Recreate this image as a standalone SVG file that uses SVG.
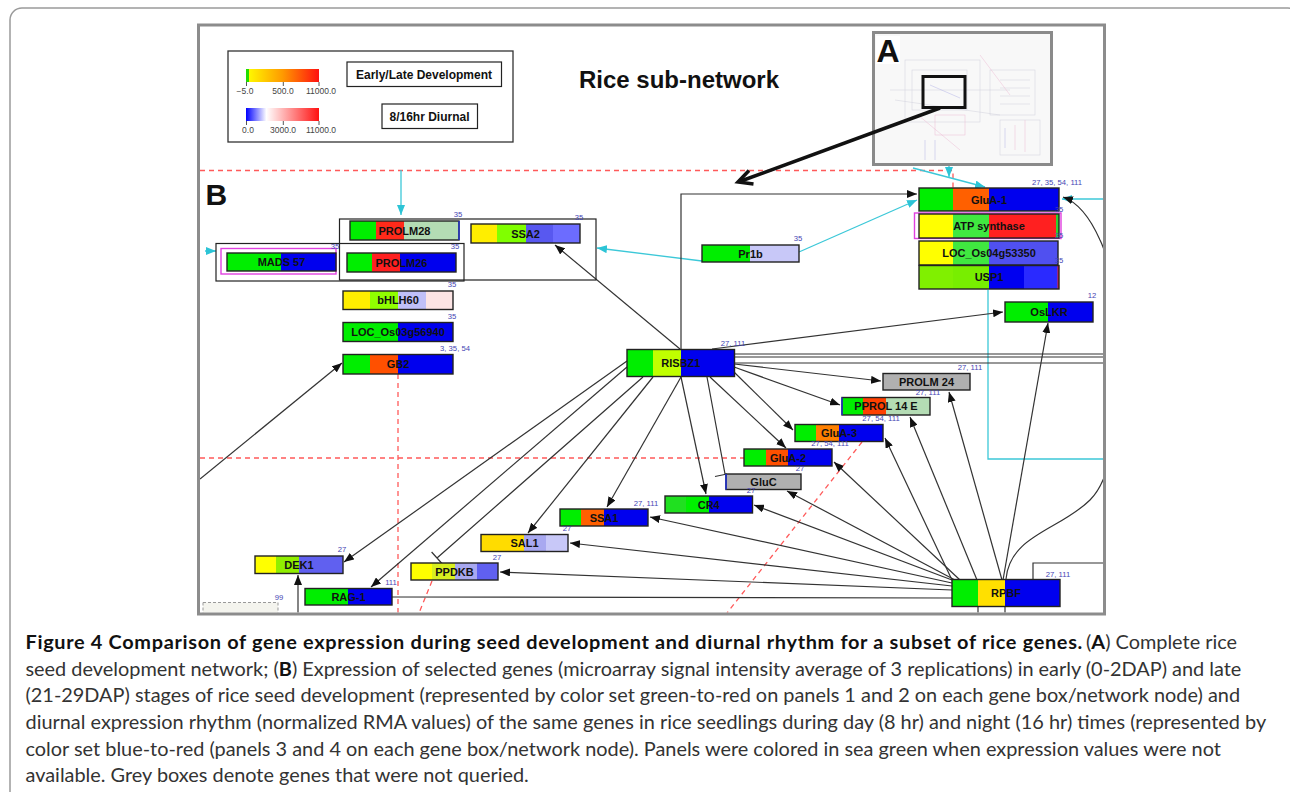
<svg xmlns="http://www.w3.org/2000/svg" width="1290" height="792" viewBox="0 0 1290 792">
<style>
.nb{fill:none;stroke:#222;stroke-width:1.4}
.nl{font-family:"Liberation Sans",Arial,sans-serif;font-weight:bold;font-size:11px;text-anchor:middle;fill:#111}
.num{font-family:"Liberation Sans",Arial,sans-serif;font-size:7.7px;fill:#4646b4;text-anchor:middle}
.e{fill:none;stroke:#333;stroke-width:1.2}
.ea{marker-end:url(#ab)}
.cy{fill:none;stroke:#3cc8d8;stroke-width:1.3}
.ca{marker-end:url(#ac)}
.rd{fill:none;stroke:#ff5a5a;stroke-width:1.3;stroke-dasharray:5 4}
.gb{fill:none;stroke:#222;stroke-width:1.2}
.lg{font-family:"Liberation Sans",Arial,sans-serif;font-weight:bold;font-size:12px;text-anchor:middle;fill:#111}
.tk{font-family:"Liberation Sans",Arial,sans-serif;font-size:8.5px;fill:#444;text-anchor:middle}
.cap{font-family:Lato,"Open Sans",sans-serif;font-size:19.9px;fill:#333}
.capb{font-weight:bold;fill:#111}
.fa{fill:none;stroke-width:0.5}
.gr{fill:#b0b0b0}
</style>
<defs>
<marker id="ab" viewBox="0 0 10 8" refX="10" refY="4" markerWidth="10" markerHeight="8" orient="auto" markerUnits="userSpaceOnUse"><path d="M0,0L10,4L0,8z" fill="#111"/></marker>
<marker id="ac" viewBox="0 0 10 8" refX="10" refY="4" markerWidth="10" markerHeight="8" orient="auto" markerUnits="userSpaceOnUse"><path d="M0,0L10,4L0,8z" fill="#2cc4d6"/></marker>
<linearGradient id="g1" x1="0" x2="1" y1="0" y2="0"><stop offset="0" stop-color="#ffff00"/><stop offset="0.5" stop-color="#ff9a00"/><stop offset="1" stop-color="#ff1010"/></linearGradient>
<linearGradient id="g2" x1="0" x2="1" y1="0" y2="0"><stop offset="0" stop-color="#0000ff"/><stop offset="0.28" stop-color="#ffffff"/><stop offset="1" stop-color="#ff1010"/></linearGradient>
<clipPath id="fr"><rect x="200" y="26.5" width="903" height="586"/></clipPath>
</defs>
<rect width="1290" height="792" fill="#ffffff"/>
<rect x="10" y="8" width="1290" height="800" rx="12" fill="#ffffff" stroke="#9a9a9a" stroke-width="1.5"/>
<rect x="198.5" y="25" width="906" height="589" fill="#ffffff"/>
<g clip-path="url(#fr)">
<g id="legend">
<rect x="228" y="51" width="285" height="91" fill="#ffffff" stroke="#333" stroke-width="1.3"/>
<rect x="246" y="69" width="73" height="13" fill="url(#g1)"/>
<rect x="246" y="69" width="3" height="13" fill="#22dd00"/>
<g stroke="#555" stroke-width="1"><line x1="246.5" y1="82" x2="246.5" y2="86"/><line x1="283.3" y1="82" x2="283.3" y2="86"/><line x1="319" y1="82" x2="319" y2="86"/></g>
<text class="tk" x="245" y="94">−5.0</text><text class="tk" x="283" y="94">500.0</text><text class="tk" x="321" y="94">11000.0</text>
<rect x="246" y="108" width="73" height="13" fill="url(#g2)"/>
<g stroke="#555" stroke-width="1"><line x1="246.5" y1="121" x2="246.5" y2="125"/><line x1="283.3" y1="121" x2="283.3" y2="125"/><line x1="319" y1="121" x2="319" y2="125"/></g>
<text class="tk" x="248" y="133">0.0</text><text class="tk" x="283" y="133">3000.0</text><text class="tk" x="321" y="133">11000.0</text>
<rect x="347" y="62" width="154.5" height="24.5" fill="#fff" stroke="#222" stroke-width="1.2"/>
<text class="lg" x="424" y="78.5">Early/Late Development</text>
<rect x="382" y="104" width="95.5" height="24.5" fill="#fff" stroke="#222" stroke-width="1.2"/>
<text class="lg" x="429.5" y="120.5">8/16hr Diurnal</text>
</g>
<text x="579" y="88" font-family="Liberation Sans,Arial,sans-serif" font-weight="bold" font-size="24" fill="#111">Rice sub-network</text>
<text x="205.5" y="205" font-family="Liberation Sans,Arial,sans-serif" font-weight="bold" font-size="30" fill="#111">B</text>
<g id="inset-a">
<rect x="873.5" y="32.5" width="178" height="132" fill="#f8f8f8" stroke="#8a8a8a" stroke-width="3"/>
<g class="fa" stroke="#d0d0dc">
<rect x="905" y="60" width="75" height="62"/><rect x="912" y="70" width="55" height="40"/>
<line x1="890" y1="90" x2="1010" y2="90"/><line x1="895" y1="100" x2="1000" y2="115"/>
<rect x="1000" y="120" width="40" height="35"/><rect x="990" y="70" width="45" height="45"/>
<line x1="1000" y1="80" x2="1030" y2="80"/><line x1="1000" y1="88" x2="1030" y2="88"/><line x1="1000" y1="96" x2="1030" y2="96"/><line x1="1000" y1="104" x2="1030" y2="104"/>
</g>
<g class="fa" stroke="#ecbcd4">
<line x1="918" y1="115" x2="960" y2="150"/><line x1="980" y1="55" x2="1010" y2="95"/><rect x="935" y="115" width="30" height="20"/>
<line x1="1015" y1="125" x2="1015" y2="150"/><line x1="1025" y1="120" x2="1025" y2="152"/>
</g>
<g class="fa" stroke="#b4b4e6">
<line x1="930" y1="85" x2="960" y2="98"/><line x1="925" y1="140" x2="925" y2="160"/><line x1="935" y1="140" x2="935" y2="160"/>
<line x1="1005" y1="128" x2="1005" y2="148"/>
</g>
<rect x="923" y="76.5" width="42" height="31" fill="none" stroke="#111" stroke-width="3"/>
<rect x="876" y="36" width="24" height="28" fill="#ffffff"/>
<text x="876.5" y="62" font-family="Liberation Sans,Arial,sans-serif" font-weight="bold" font-size="32" fill="#111">A</text>
</g>
<g id="connectors">
<path class="rd" d="M200,170.5H953V188"/>
<path class="rd" d="M398,374V613"/>
<path class="rd" d="M200,458H744"/>
<path class="rd" d="M862,442L727,613"/>
<path class="rd" d="M432,581L419,613"/>
<path d="M940,108L741,181" fill="none" stroke="#111" stroke-width="3.5"/>
<polyline points="749,170.5 738,182 753.5,184" fill="none" stroke="#111" stroke-width="3.5"/>
<path class="cy ca" d="M401,170V215"/>
<path class="cy ca" d="M205,251H216"/>
<path class="cy ca" d="M702,261L597,248"/>
<path class="cy ca" d="M799,252L917,200"/>
<path class="cy ca" d="M949,166V177"/>
<path class="cy ca" d="M913,168L985,187"/>
<path class="cy ca" d="M1103,199H1062"/>
<path class="cy" d="M988,290V459H1103"/>
<path class="e ea" d="M680,349L555,245"/>
<path class="e ea" d="M681,349V194H917"/>
<path class="e ea" d="M712,349L1003,312"/>
<path class="e" d="M734,354H1103M734,357H1103M734,363H1103"/>
<path class="e ea" d="M734,364L881,381"/>
<path class="e ea" d="M734,367L840,405"/>
<path class="e ea" d="M734,372L793,430"/>
<path class="e ea" d="M710,377L786,448"/>
<path class="e" d="M707,377L725,474M715,476.5L727,474"/>
<path class="e ea" d="M681,377L706,494"/>
<path class="e ea" d="M681,377L607,507"/>
<path class="e ea" d="M653,377L528,533"/>
<path class="e" d="M643,377L437,558M431.6,552L442.4,564"/>
<path class="e ea" d="M627,367L371,587"/>
<path class="e ea" d="M627,361L344,562"/>
<path class="e ea" d="M200,479L342,363"/>
<path class="e ea" d="M298,613V575"/>
<path class="e" d="M392,597L952,598"/>
<path class="e ea" d="M952,590L500,572"/>
<path class="e ea" d="M952,586L570,543"/>
<path class="e ea" d="M952,583L650,517"/>
<path class="e ea" d="M952,580L754,505"/>
<path class="e ea" d="M955,580L787,491"/>
<path class="e ea" d="M960,580L834,462"/>
<path class="e ea" d="M952,580L885,438"/>
<path class="e ea" d="M977,580L910,417"/>
<path class="e ea" d="M1002,580L949,392"/>
<path class="e ea" d="M1003,580L1048,323"/>
<path class="e ea" d="M1006,579C1010,535 1060,530 1090,500C1110,480 1116,440 1116,380C1116,300 1110,260 1100,240C1092,222 1080,203 1063,197"/>
<path class="e" d="M978,607V613M1005,607V613M1033,579V563H1103"/>
</g>
<rect x="339.5" y="219" width="256.5" height="61" class="gb"/>
<rect x="216" y="243.5" width="248" height="37.5" class="gb"/>
<g id="n-glua1"><rect x="919" y="188" width="34" height="23" fill="#00ee00"/><rect x="953" y="188" width="36" height="23" fill="#ff6000"/><rect x="989" y="188" width="70" height="23" fill="#0000ee"/><rect x="919" y="188" width="140" height="23" class="nb"/><text class="nl" x="989" y="203.5">GluA-1</text><text class="num" x="1057" y="185">27, 35, 54, 111</text></g>
<g id="n-atp"><rect x="914.5" y="213" width="146.5" height="25.5" fill="none" stroke="#e040e0" stroke-width="1.4"/><rect x="919" y="214" width="34" height="24" fill="#ffff00"/><rect x="953" y="214" width="36" height="24" fill="#40e840"/><rect x="989" y="214" width="67" height="24" fill="#ff2020"/><rect x="1056" y="214" width="3" height="24" fill="#30d030"/><rect x="919" y="214" width="140" height="24" class="nb"/><text class="nl" x="989" y="230">ATP synthase</text></g>
<g id="n-loc04"><rect x="919" y="241" width="34" height="24" fill="#ffff00"/><rect x="953" y="241" width="36" height="24" fill="#40e840"/><rect x="989" y="241" width="69" height="24" fill="#5050f0"/><rect x="919" y="241" width="139" height="24" class="nb"/><text class="nl" x="989" y="257">LOC_Os04g53350</text></g>
<g id="n-usp1"><rect x="919" y="265.5" width="34" height="23.5" fill="#80f000"/><rect x="953" y="265.5" width="36" height="23.5" fill="#78ee00"/><rect x="989" y="265.5" width="35" height="23.5" fill="#0000f0"/><rect x="1024" y="265.5" width="34" height="23.5" fill="#2a2aff"/><rect x="1057.5" y="265.5" width="1.5" height="23.5" fill="#ff2020"/><rect x="919" y="265.5" width="140" height="23.5" class="nb"/><text class="nl" x="989" y="281">USP1</text></g>
<text class="num" x="1059" y="212">35</text><text class="num" x="1059" y="238">35</text><text class="num" x="1059" y="263">35</text>
<g id="n-pr1b"><rect x="702" y="245" width="48" height="17" fill="#00ee00"/><rect x="750" y="245" width="49" height="17" fill="#c8c8f8"/><rect x="702" y="245" width="97" height="17" class="nb"/><text class="nl" x="750.5" y="257.5">Pr1b</text><text class="num" x="798" y="241">35</text></g>
<g id="n-oslkr"><rect x="1005" y="302" width="43" height="20" fill="#00ee00"/><rect x="1048" y="302" width="45" height="20" fill="#0000ee"/><rect x="1005" y="302" width="88" height="20" class="nb"/><text class="nl" x="1049" y="316">OsLKR</text><text class="num" x="1092" y="298">12</text></g>
<g id="n-prolm28"><rect x="350" y="221" width="26" height="19" fill="#00ee00"/><rect x="376" y="221" width="28" height="19" fill="#ff2a1a"/><rect x="404" y="221" width="55" height="19" fill="#b4dcb4"/><rect x="350" y="221" width="109" height="19" class="nb"/><line x1="459" y1="221" x2="459" y2="240" stroke="#2030d0" stroke-width="1.4"/><text class="nl" x="404.5" y="234.5">PROLM28</text><text class="num" x="458" y="217">35</text></g>
<g id="n-ssa2"><rect x="471" y="224" width="26" height="19" fill="#ffee00"/><rect x="497" y="224" width="29" height="19" fill="#80ff00"/><rect x="526" y="224" width="27" height="19" fill="#5858f0"/><rect x="553" y="224" width="27" height="19" fill="#6c6cff"/><rect x="471" y="224" width="109" height="19" class="nb"/><text class="nl" x="525.5" y="237.5">SSA2</text><text class="num" x="579" y="220">35</text></g>
<g id="n-mads57"><rect x="221" y="248.5" width="115" height="25.5" fill="none" stroke="#e040e0" stroke-width="1.4"/><rect x="227" y="253" width="54" height="18" fill="#00ee00"/><rect x="281" y="253" width="55" height="18" fill="#0000ee"/><rect x="227" y="253" width="109" height="18" class="nb"/><text class="nl" x="281.5" y="266">MADS 57</text><text class="num" x="335" y="249">35</text></g>
<g id="n-prolm26"><rect x="347" y="253" width="25" height="19" fill="#00ee00"/><rect x="372" y="253" width="28" height="19" fill="#ff2020"/><rect x="400" y="253" width="56" height="19" fill="#0000ee"/><rect x="347" y="253" width="109" height="19" class="nb"/><text class="nl" x="401.5" y="266.5">PROLM26</text><text class="num" x="455" y="249">35</text></g>
<g id="n-bhlh60"><rect x="343" y="291" width="27" height="18.5" fill="#ffee00"/><rect x="370" y="291" width="28" height="18.5" fill="#90ff00"/><rect x="398" y="291" width="28" height="18.5" fill="#c0c0f8"/><rect x="426" y="291" width="27" height="18.5" fill="#fce4e4"/><rect x="343" y="291" width="110" height="18.5" class="nb"/><text class="nl" x="398" y="304">bHLH60</text><text class="num" x="452" y="287">35</text></g>
<g id="n-loc03"><rect x="343" y="322.5" width="55" height="19" fill="#00ee00"/><rect x="398" y="322.5" width="55" height="19" fill="#0000ee"/><rect x="343" y="322.5" width="110" height="19" class="nb"/><text class="nl" x="398" y="336">LOC_Os03g56940</text><text class="num" x="452" y="319">35</text></g>
<g id="n-gb2"><rect x="343" y="354.5" width="27" height="19.5" fill="#00ee00"/><rect x="370" y="354.5" width="28" height="19.5" fill="#ff5000"/><rect x="398" y="354.5" width="55" height="19.5" fill="#0000ee"/><rect x="343" y="354.5" width="110" height="19.5" class="nb"/><text class="nl" x="398" y="368">GB2</text><text class="num" x="455" y="351">3, 35, 54</text></g>
<g id="n-risbz1"><rect x="627" y="349.5" width="26" height="27" fill="#00ee00"/><rect x="653" y="349.5" width="28" height="27" fill="#c0ff00"/><rect x="681" y="349.5" width="53.5" height="27" fill="#0000ee"/><rect x="627" y="349.5" width="107.5" height="27" class="nb"/><text class="nl" x="680.75" y="367">RISBZ1</text><text class="num" x="733" y="346">27, 111</text></g>
<g id="n-prolm24"><rect x="883" y="373.5" width="87" height="16.5" class="gr"/><rect x="883" y="373.5" width="87" height="16.5" class="nb"/><text class="nl" x="926.5" y="385.75">PROLM 24</text><text class="num" x="970" y="370">27, 111</text></g>
<g id="n-pprol14e"><rect x="842" y="397.5" width="21" height="17.5" fill="#00ee00"/><rect x="863" y="397.5" width="23" height="17.5" fill="#ff4000"/><rect x="886" y="397.5" width="44" height="17.5" fill="#b4dcb4"/><rect x="842" y="397.5" width="88" height="17.5" class="nb"/><line x1="842" y1="397.5" x2="842" y2="415" stroke="#2030d0" stroke-width="1.4"/><text class="nl" x="886" y="410.25">PPROL 14 E</text><text class="num" x="928" y="395">27, 111</text></g>
<g id="n-glua3"><rect x="795" y="424.5" width="21" height="17" fill="#00ee00"/><rect x="816" y="424.5" width="23" height="17" fill="#ff8000"/><rect x="839" y="424.5" width="44" height="17" fill="#0000ee"/><rect x="795" y="424.5" width="88" height="17" class="nb"/><text class="nl" x="839" y="437">GluA-3</text><text class="num" x="881" y="421">27, 54, 111</text></g>
<g id="n-glua2"><rect x="744" y="449" width="22" height="17" fill="#00ee00"/><rect x="766" y="449" width="22" height="17" fill="#ff5000"/><rect x="788" y="449" width="44" height="17" fill="#0000ee"/><rect x="744" y="449" width="88" height="17" class="nb"/><text class="nl" x="788" y="461.5">GluA-2</text><text class="num" x="830" y="446">27, 54, 111</text></g>
<g id="n-gluc"><rect x="726" y="474" width="75" height="15.5" class="gr"/><rect x="726" y="474" width="75" height="15.5" class="nb"/><line x1="726" y1="474" x2="726" y2="489.5" stroke="#2030d0" stroke-width="1.6"/><text class="nl" x="763.5" y="485.75">GluC</text><text class="num" x="800" y="470.5">27</text></g>
<g id="n-cr4"><rect x="665" y="496" width="21" height="17" fill="#20e020"/><rect x="686" y="496" width="23" height="17" fill="#00f000"/><rect x="709" y="496" width="43.5" height="17" fill="#0000ee"/><rect x="665" y="496" width="87.5" height="17" class="nb"/><text class="nl" x="708.75" y="508.5">CR4</text><text class="num" x="751" y="492.5">27</text></g>
<g id="n-ssa1"><rect x="560" y="509" width="21" height="17" fill="#00ee00"/><rect x="581" y="509" width="23" height="17" fill="#ff6000"/><rect x="604" y="509" width="44" height="17" fill="#0000ee"/><rect x="560" y="509" width="88" height="17" class="nb"/><text class="nl" x="604" y="521.5">SSA1</text><text class="num" x="646" y="506">27, 111</text></g>
<g id="n-sal1"><rect x="481" y="534.5" width="43" height="17" fill="#ffdc00"/><rect x="524" y="534.5" width="22" height="17" fill="#a8a8f0"/><rect x="546" y="534.5" width="22" height="17" fill="#c8c8f8"/><rect x="481" y="534.5" width="87" height="17" class="nb"/><text class="nl" x="524.5" y="547">SAL1</text><text class="num" x="567" y="531">27</text></g>
<g id="n-ppdkb"><rect x="411" y="563" width="21" height="17" fill="#ffff00"/><rect x="432" y="563" width="23" height="17" fill="#d8f020"/><rect x="455" y="563" width="22" height="17" fill="#a8a8f0"/><rect x="477" y="563" width="21" height="17" fill="#6060f0"/><rect x="411" y="563" width="87" height="17" class="nb"/><text class="nl" x="454.5" y="575.5">PPDKB</text><text class="num" x="497" y="559.5">27</text></g>
<g id="n-dek1"><rect x="255" y="556" width="21" height="17.5" fill="#ffff00"/><rect x="276" y="556" width="23" height="17.5" fill="#90ee00"/><rect x="299" y="556" width="44" height="17.5" fill="#6060f0"/><rect x="255" y="556" width="88" height="17.5" class="nb"/><text class="nl" x="299" y="568.75">DEK1</text><text class="num" x="342" y="552">27</text></g>
<g id="n-rag1"><rect x="305" y="588.5" width="43" height="16.5" fill="#00ee00"/><rect x="348" y="588.5" width="44" height="16.5" fill="#0000ee"/><rect x="305" y="588.5" width="87" height="16.5" class="nb"/><text class="nl" x="348.5" y="600.75">RAG-1</text><text class="num" x="391" y="584.5">111</text></g>
<g id="n-rpbf"><rect x="952" y="579.5" width="26" height="27" fill="#00ee00"/><rect x="978" y="579.5" width="27" height="27" fill="#ffe000"/><rect x="1005" y="579.5" width="55" height="27" fill="#0000ee"/><rect x="952" y="579.5" width="108" height="27" class="nb"/><text class="nl" x="1006" y="597">RPBF</text><text class="num" x="1058" y="576.5">27, 111</text></g>
<g id="n-box99"><rect x="203" y="602.5" width="75" height="14" fill="#f4f4ee" stroke="#999" stroke-width="1" stroke-dasharray="3 2"/><text class="num" x="279" y="599.5">99</text></g>
</g>
<rect x="198.5" y="25" width="906" height="589" fill="none" stroke="#8c8c8c" stroke-width="3"/>
<g id="caption">
<text class="cap capb" x="25.5" y="649" letter-spacing="0.68">Figure 4 Comparison of gene expression during seed development and diurnal rhythm for a subset of rice genes.</text>
<text class="cap" x="1086" y="649">(<tspan class="capb">A</tspan>) Complete rice</text>
<text class="cap" x="25.5" y="676">seed development network; (<tspan class="capb">B</tspan>) Expression of selected genes (microarray signal intensity average of 3 replications) in early (0-2DAP) and late</text>
<text class="cap" x="25.5" y="702">(21-29DAP) stages of rice seed development (represented by color set green-to-red on panels 1 and 2 on each gene box/network node) and</text>
<text class="cap" x="25.5" y="729">diurnal expression rhythm (normalized RMA values) of the same genes in rice seedlings during day (8 hr) and night (16 hr) times (represented by</text>
<text class="cap" x="25.5" y="756">color set blue-to-red (panels 3 and 4 on each gene box/network node). Panels were colored in sea green when expression values were not</text>
<text class="cap" x="25.5" y="782">available. Grey boxes denote genes that were not queried.</text>
</g>
</svg>
